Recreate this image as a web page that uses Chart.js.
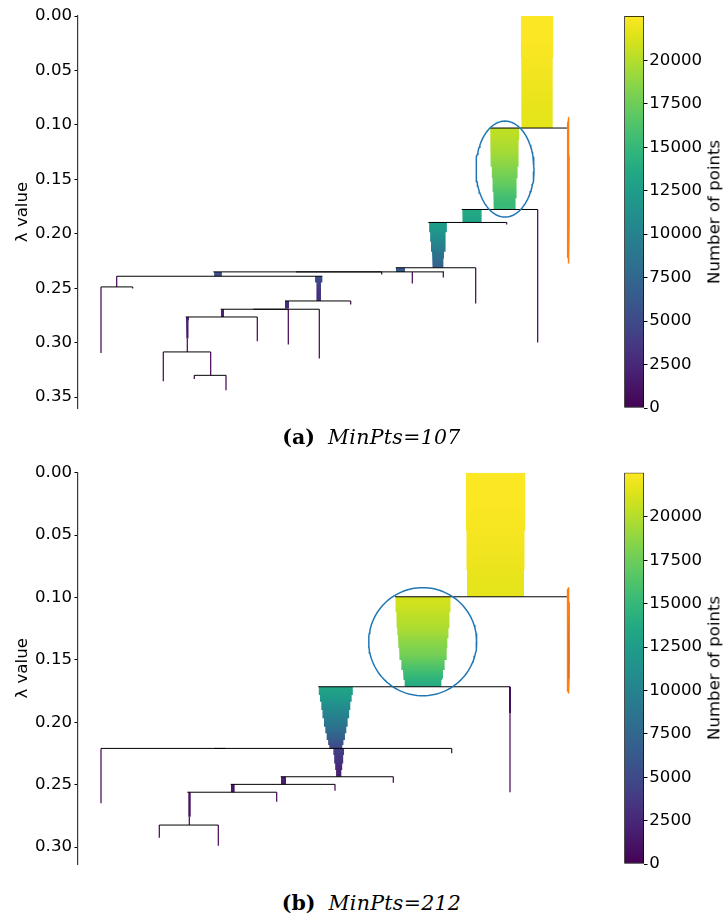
<!DOCTYPE html>
<html>
<head>
<meta charset="utf-8">
<script src="https://cdn.jsdelivr.net/npm/chart.js@4.4.0/dist/chart.umd.min.js"></script>
<style>
  html, body { margin: 0; padding: 0; background: #fff; }
  #page { position: relative; width: 723px; height: 917px; overflow: hidden; background: #fff; }
  canvas { position: absolute; }
  .cblabel { position: absolute; font-family: "DejaVu Sans", sans-serif; font-size: 16.6px; line-height: 1.16;
             white-space: nowrap; color: #000; transform: translate(-50%, -50%) rotate(-90deg); }
  .caption { position: absolute; left: 10px; width: 723px; text-align: center; font-family: "DejaVu Serif", serif;
             font-size: 20.5px; color: #000; white-space: nowrap; line-height: 26px; }
  .caption b { font-weight: bold; }
  .caption i { font-style: italic; letter-spacing: 0.3px; }
</style>
</head>
<body>
<div id="page">
  <canvas id="treeA" width="600" height="425" style="left:0px;top:0px"></canvas>
  <canvas id="cbarA" width="123" height="425" style="left:600px;top:0px"></canvas>
  <div class="cblabel" style="left:714px;top:212px">Number of points</div>
  <div class="caption" style="top:424px"><b>(a)</b>&nbsp;&nbsp;<i>MinPts=107</i></div>

  <canvas id="treeB" width="600" height="425" style="left:0px;top:455px"></canvas>
  <canvas id="cbarB" width="123" height="425" style="left:600px;top:455px"></canvas>
  <div class="cblabel" style="left:714px;top:668px">Number of points</div>
  <div class="caption" style="top:890px"><b>(b)</b>&nbsp;&nbsp;<i>MinPts=212</i></div>
</div>

<script>
// ================= DATA =================
// Colour scale (number of points in a cluster)
const CB_MAX = 22550;
const CB_TICKS = [0, 2500, 5000, 7500, 10000, 12500, 15000, 17500, 20000];

// ---------- Panel (a): MinPts = 107 ----------
const A_LAMBDA_MAX = 0.36;
const A_Y_TICKS = [0.00, 0.05, 0.10, 0.15, 0.20, 0.25, 0.30, 0.35];
const A_POINTS_PER_UNIT = 700;          // cluster size represented by one layout unit of width
// cluster branches: layout position, lambda breakpoints, cluster size on each step
const A_BRANCH_X = [459, 426.7, 394, 360, 322.5, 140, 240.7, 209, 144.5, 109.5];
const A_BRANCH_LAMBDAS = [
  [0, 0.0386, 0.07, 0.1029],
  [0.1029, 0.1140, 0.1385, 0.1489, 0.1615, 0.1673, 0.1777],
  [0.1777, 0.1840, 0.1891],
  [0.1891, 0.1985, 0.2074, 0.2166, 0.2227, 0.2270, 0.2312],
  [0.2312, 0.2350],
  [0.2350, 0.2390],
  [0.2390, 0.2448, 0.2617],
  [0.2617, 0.2687],
  [0.2693, 0.2764],
  [0.2764, 0.2794, 0.2962]
];
const A_BRANCH_SIZES = [
  [22500, 22100, 21700],
  [20300, 19400, 18000, 17000, 15900, 15200],
  [13600, 13100],
  [12400, 11000, 9800, 8400, 7700, 7200],
  [6300],
  [5400],
  [5100, 3200],
  [2800],
  [2100],
  [2100, 1400]
];
// split (horizontal) lines
const A_SPLIT_LAMBDA = [0.1029, 0.1777, 0.1896, 0.2312, 0.2350, 0.2350, 0.2390, 0.2488, 0.2617, 0.2693, 0.2693, 0.2764, 0.3085, 0.3300];
const A_SPLIT_FROM   = [412, 383.7, 350.3, 317.7, 135.3, 218, 38.7, 23, 207, 142.7, 175.3, 107.7, 85.3, 116.3];
const A_SPLIT_TO     = [491, 459.7, 428.7, 397.7, 366, 303.7, 244.3, 54.7, 272.7, 241.3, 210.3, 179.3, 132.7, 148];
// small clusters drawn as thin lines
const A_LEAF_X    = [23, 54.7, 38.7, 179.3, 109.3, 85.3, 132.7, 116.3, 148, 210.3, 241.3, 272.7, 303.7, 334.3, 365.3, 397.7, 459.7, 490.3, 428.7];
const A_LEAF_FROM = [0.2488, 0.2488, 0.2390, 0.2764, 0.2962, 0.3085, 0.3085, 0.3300, 0.3300, 0.2693, 0.2693, 0.2617, 0.2350, 0.2350, 0.2350, 0.2312, 0.1777, 0.1029, 0.1896];
const A_LEAF_TO   = [0.3095, 0.2503, 0.2488, 0.2987, 0.3085, 0.3355, 0.3300, 0.3334, 0.3438, 0.3017, 0.3146, 0.2650, 0.2374, 0.2457, 0.2402, 0.2641, 0.2999, 0.2200, 0.1915];
// selected-cluster markers: centre x, centre lambda, x radius, lambda radius, colour
const A_MARK_X   = [427, 490.3];
const A_MARK_Y   = [0.1406, 0.1601];
const A_MARK_RX  = [29, 0.8];
const A_MARK_RY  = [0.0441, 0.0672];
const A_MARK_COL = ['#1f77b4', '#ff7f0e'];

// ---------- Panel (b): MinPts = 212 ----------
const B_LAMBDA_MAX = 0.3135;
const B_Y_TICKS = [0.00, 0.05, 0.10, 0.15, 0.20, 0.25, 0.30];
const B_POINTS_PER_UNIT = 381;
const B_BRANCH_X = [417.5, 345, 432, 257.8, 260.7, 205.5, 154.8, 111.5];
const B_BRANCH_LAMBDAS = [
  [0, 0.0465, 0.0780, 0.0994],
  [0.0994, 0.1114, 0.1180, 0.1247, 0.1301, 0.1327, 0.1407, 0.1421, 0.1501, 0.1580, 0.1648, 0.1661, 0.1715],
  [0.1715, 0.1928],
  [0.1715, 0.1781, 0.1835, 0.1901, 0.1968, 0.2035, 0.2088, 0.2142, 0.2182, 0.2209],
  [0.2209, 0.2262, 0.2329, 0.2382, 0.2436],
  [0.2436, 0.2497],
  [0.2497, 0.2560],
  [0.2560, 0.2756]
];
const B_BRANCH_SIZES = [
  [22500, 22100, 21700],
  [20950, 20300, 19930, 19550, 19050, 18550, 18170, 17790, 16500, 15240, 14600, 13980],
  [760],
  [12950, 12080, 11050, 10170, 9030, 8000, 6970, 5830, 4950],
  [4070, 3430, 2670, 2000],
  [1900],
  [1400],
  [900]
];
const B_SPLIT_LAMBDA = [0.0994, 0.1715, 0.2209, 0.2209, 0.2436, 0.2497, 0.2560, 0.2823];
const B_SPLIT_FROM   = [317, 240.3, 23, 136, 202.7, 152.7, 109.3, 81.3];
const B_SPLIT_TO     = [491, 432, 373.7, 147.7, 315.3, 257, 198.7, 140.3];
const B_LEAF_X    = [432, 23, 373.7, 315.3, 257, 198.7, 111.3, 81.3, 140.3, 490.3];
const B_LEAF_FROM = [0.1928, 0.2209, 0.2209, 0.2436, 0.2497, 0.2560, 0.2756, 0.2823, 0.2823, 0.0994];
const B_LEAF_TO   = [0.2561, 0.2649, 0.2248, 0.2484, 0.2548, 0.2636, 0.2823, 0.2925, 0.2989, 0.1660];
const B_MARK_X   = [344.7, 490.3];
const B_MARK_Y   = [0.1354, 0.1343];
const B_MARK_RX  = [54, 1.0];
const B_MARK_RY  = [0.0433, 0.0425];
const B_MARK_COL = ['#1f77b4', '#ff7f0e'];

// ================= COLOUR MAP =================
const VIRIDIS = ['#440154','#471365','#482475','#463480','#414487','#3b528b','#355f8d','#2f6c8e',
                 '#2a788e','#25848e','#21918c','#1e9c89','#22a884','#2fb47c','#44bf70','#5ec962',
                 '#7ad151','#9bd93c','#bddf26','#dfe318','#fde725'];
function hexRgb(h) { return [parseInt(h.slice(1,3),16), parseInt(h.slice(3,5),16), parseInt(h.slice(5,7),16)]; }
const VIRIDIS_RGB = VIRIDIS.map(hexRgb);
function viridis(t) {
  t = Math.max(0, Math.min(1, t));
  const p = t * (VIRIDIS_RGB.length - 1);
  const i = Math.min(Math.floor(p), VIRIDIS_RGB.length - 2);
  const f = p - i;
  const a = VIRIDIS_RGB[i], b = VIRIDIS_RGB[i + 1];
  const c = a.map((v, k) => Math.round(v + (b[k] - v) * f));
  return 'rgb(' + c.join(',') + ')';
}
const clamp01 = v => (isFinite(v) ? Math.max(0, Math.min(1, v)) : 0);

// ================= BUILDERS =================
// colour of a branch follows its size as lambda grows (smoothly between steps)
function branchGradient(c, lams, sizes) {
  const chart = c.chart;
  const fallback = viridis(sizes[0] / CB_MAX);
  const ys = chart.scales && chart.scales.y;
  if (!chart.chartArea || !ys) return fallback;
  const p0 = ys.getPixelForValue(lams[0]);
  const p1 = ys.getPixelForValue(lams[lams.length - 1]);
  if (!isFinite(p0) || !isFinite(p1) || !(p1 > p0)) return fallback;
  const g = chart.ctx.createLinearGradient(0, p0, 0, p1);
  const n = sizes.length;
  g.addColorStop(0, viridis(sizes[0] / CB_MAX));
  for (let i = 0; i < n; i++) {
    const mid = (ys.getPixelForValue(lams[i]) + ys.getPixelForValue(lams[i + 1])) / 2;
    g.addColorStop(clamp01((mid - p0) / (p1 - p0)), viridis(sizes[i] / CB_MAX));
  }
  g.addColorStop(1, viridis(sizes[n - 1] / CB_MAX));
  return g;
}

function treeDatasets(P) {
  const ds = [];
  P.branchX.forEach((cx, k) => {
    const lams = P.branchLambdas[k], sizes = P.branchSizes[k];
    const left = [], right = [];
    for (let i = 0; i < sizes.length; i++) {
      const hw = sizes[i] / P.pointsPerUnit / 2;
      left.push({x: cx - hw, y: lams[i]}, {x: cx - hw, y: lams[i + 1]});
      right.push({x: cx + hw, y: lams[i]}, {x: cx + hw, y: lams[i + 1]});
    }
    ds.push({
      data: left.concat(right.reverse()),
      showLine: true, fill: 'shape', borderWidth: 0, borderColor: 'rgba(0,0,0,0)',
      pointRadius: 0, order: 3,
      backgroundColor: (c) => branchGradient(c, lams, sizes)
    });
  });
  P.leafX.forEach((x, k) => {
    ds.push({
      data: [{x: x, y: P.leafFrom[k]}, {x: x, y: P.leafTo[k]}],
      showLine: true, fill: false, borderColor: '#440154', borderWidth: 1.2, pointRadius: 0, order: 2
    });
  });
  P.splitLambda.forEach((l, k) => {
    ds.push({
      data: [{x: P.splitFrom[k], y: l}, {x: P.splitTo[k], y: l}],
      showLine: true, fill: false, borderColor: '#000', borderWidth: 1, pointRadius: 0, order: 1
    });
  });
  P.markX.forEach((cx, k) => {
    const pts = [];
    const n = 120;
    for (let i = 0; i <= n; i++) {
      const t = 2 * Math.PI * i / n;
      pts.push({x: cx + P.markRx[k] * Math.cos(t), y: P.markY[k] + P.markRy[k] * Math.sin(t)});
    }
    ds.push({
      data: pts, showLine: true, fill: false, borderColor: P.markCol[k], borderWidth: 1.5,
      pointRadius: 0, order: 0, tension: 0
    });
  });
  return ds;
}

const FONT = {family: '"DejaVu Sans", sans-serif', size: 16.6};

function drawTree(id, P, pad) {
  new Chart(document.getElementById(id), {
    type: 'scatter',
    data: {datasets: treeDatasets(P)},
    options: {
      responsive: false, animation: false, events: [],
      layout: {padding: pad},
      plugins: {legend: {display: false}, tooltip: {enabled: false}},
      scales: {
        x: {type: 'linear', min: 0, max: 520, display: false},
        y: {
          type: 'linear', reverse: true, min: 0, max: P.lambdaMax,
          afterFit: s => { s.width = 78; },
          afterBuildTicks: s => { s.ticks = P.yTicks.map(v => ({value: v})); },
          ticks: {callback: v => Number(v).toFixed(2), color: '#000', font: FONT, padding: 2.5},
          grid: {drawOnChartArea: false, drawTicks: true, tickLength: 3.5, color: '#000', tickWidth: 1},
          border: {display: true, color: '#3a3a3a', width: 1.2},
          title: {display: true, text: 'λ value', color: '#000', font: FONT, padding: {top: 12.5, bottom: 0}}
        }
      }
    }
  });
}

function drawColorbar(id, pad) {
  new Chart(document.getElementById(id), {
    type: 'bar',
    data: {
      labels: ['points'],
      datasets: [{
        data: [[0, CB_MAX]],
        backgroundColor: (c) => {
          const chart = c.chart, ys = chart.scales && chart.scales.y;
          if (!chart.chartArea || !ys) return VIRIDIS[10];
          const b = ys.getPixelForValue(0), t = ys.getPixelForValue(CB_MAX);
          if (!isFinite(b) || !isFinite(t)) return VIRIDIS[10];
          const g = chart.ctx.createLinearGradient(0, b, 0, t);
          VIRIDIS.forEach((col, i) => g.addColorStop(i / (VIRIDIS.length - 1), col));
          return g;
        },
        borderColor: '#000', borderWidth: 1, borderSkipped: false,
        barPercentage: 1, categoryPercentage: 1
      }]
    },
    options: {
      responsive: false, animation: false, events: [],
      layout: {padding: pad},
      plugins: {legend: {display: false}, tooltip: {enabled: false}},
      scales: {
        x: {display: false},
        y: {
          position: 'right', min: 0, max: CB_MAX,
          afterFit: s => { s.width = 79; },
          afterBuildTicks: s => { s.ticks = CB_TICKS.map(v => ({value: v})); },
          ticks: {callback: v => String(v), color: '#000', font: FONT, padding: 1.8},
          grid: {drawOnChartArea: false, drawTicks: true, tickLength: 3.5, color: '#000'},
          border: {display: false}
        }
      }
    }
  });
}

const PANEL_A = {
  lambdaMax: A_LAMBDA_MAX, yTicks: A_Y_TICKS, pointsPerUnit: A_POINTS_PER_UNIT,
  branchX: A_BRANCH_X, branchLambdas: A_BRANCH_LAMBDAS, branchSizes: A_BRANCH_SIZES,
  splitLambda: A_SPLIT_LAMBDA, splitFrom: A_SPLIT_FROM, splitTo: A_SPLIT_TO,
  leafX: A_LEAF_X, leafFrom: A_LEAF_FROM, leafTo: A_LEAF_TO,
  markX: A_MARK_X, markY: A_MARK_Y, markRx: A_MARK_RX, markRy: A_MARK_RY, markCol: A_MARK_COL
};
const PANEL_B = {
  lambdaMax: B_LAMBDA_MAX, yTicks: B_Y_TICKS, pointsPerUnit: B_POINTS_PER_UNIT,
  branchX: B_BRANCH_X, branchLambdas: B_BRANCH_LAMBDAS, branchSizes: B_BRANCH_SIZES,
  splitLambda: B_SPLIT_LAMBDA, splitFrom: B_SPLIT_FROM, splitTo: B_SPLIT_TO,
  leafX: B_LEAF_X, leafFrom: B_LEAF_FROM, leafTo: B_LEAF_TO,
  markX: B_MARK_X, markY: B_MARK_Y, markRx: B_MARK_RX, markRy: B_MARK_RY, markCol: B_MARK_COL
};

drawTree('treeA', PANEL_A, {left: 0, right: 2, top: 16, bottom: 17});
drawColorbar('cbarA', {left: 24.3, right: 0, top: 16, bottom: 17});
drawTree('treeB', PANEL_B, {left: 0, right: 2, top: 17.7, bottom: 16});
drawColorbar('cbarB', {left: 24.3, right: 0, top: 17.7, bottom: 16});
</script>
</body>
</html>
